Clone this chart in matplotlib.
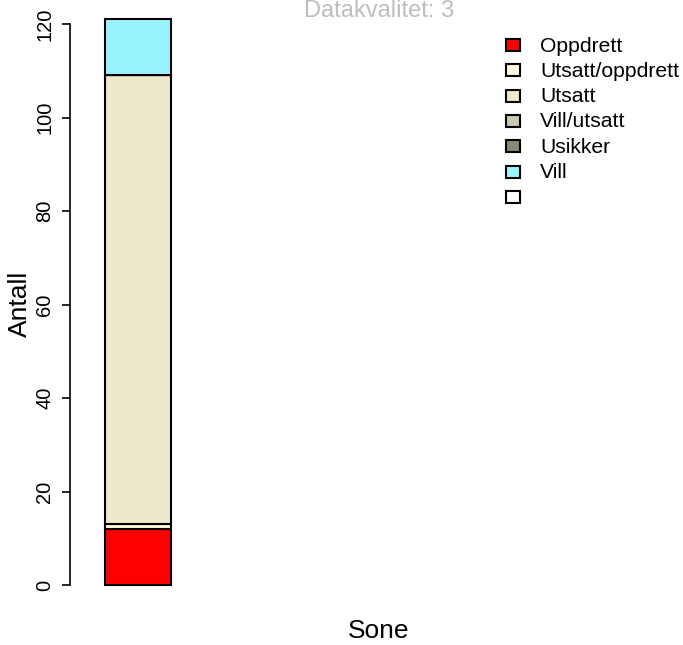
import matplotlib.pyplot as plt
from matplotlib.patches import Rectangle

categories = ["Oppdrett", "Utsatt/oppdrett", "Utsatt", "Vill/utsatt", "Usikker", "Vill", ""]
counts = [12, 1, 96, 0, 0, 12]
colors = ["#FF0000", "#FFF8DC", "#EEE8CD", "#CDC8B1", "#8B8878", "#98F5FF", "#FFFFFF"]
yticks = [0, 20, 40, 60, 80, 100, 120]

plt.rcParams['font.family'] = ['Liberation Sans', 'DejaVu Sans']

W, H = 683, 645
fig = plt.figure(figsize=(W / 100, H / 100), dpi=100)
# plot region in pixels: left 70, right 688, bottom 595, top 10
ax = fig.add_axes([70 / W, (H - 595) / H, 618 / W, 585 / H])

ppu = (585 - 24) / 120  # pixels per unit on y
ax.set_ylim(-10 / ppu, 120 + 14 / ppu)
ax.set_xlim(0, 618 / 66)

bottom = 0
for c, col in zip(counts, colors):
    ax.bar(0.53 + 0.5, c, width=1, bottom=bottom, color=col, edgecolor="black", linewidth=1.5)
    bottom += c

for s in ["top", "right", "bottom"]:
    ax.spines[s].set_visible(False)
ax.spines["left"].set_bounds(0, 120)
ax.spines["left"].set_linewidth(1.2)
ax.set_xticks([])
ax.set_yticks(yticks)
ax.set_yticklabels([str(t) for t in yticks], rotation=90, va="center", fontsize=14.5)
ax.tick_params(axis="y", length=6, width=1.2, pad=5.5)

fig.text(20 / W, 1 - 304 / H, "Antall", ha="center", va="center", rotation=90, fontsize=19)
fig.text(379 / W, 1 - 638 / H, "Sone", ha="center", va="baseline", fontsize=19)
fig.text(379 / W, 1 - 17 / H, "Datakvalitet: 3", ha="center", va="baseline", fontsize=17, color="#BEBEBE")

# legend drawn by hand to match the box sizes and spacing
for i, (lab, col) in enumerate(zip(categories, colors)):
    yc = 45 + i * 25.3
    fig.patches.append(Rectangle((506 / W, 1 - (yc + 6) / H), 14 / W, 12 / H,
                                 facecolor=col, edgecolor="black", linewidth=1.5,
                                 transform=fig.transFigure, figure=fig))
    fig.text(540 / W, 1 - (yc + 1) / H, lab, ha="left", va="center", fontsize=15.2)

fig.savefig("out.png", dpi=100)
